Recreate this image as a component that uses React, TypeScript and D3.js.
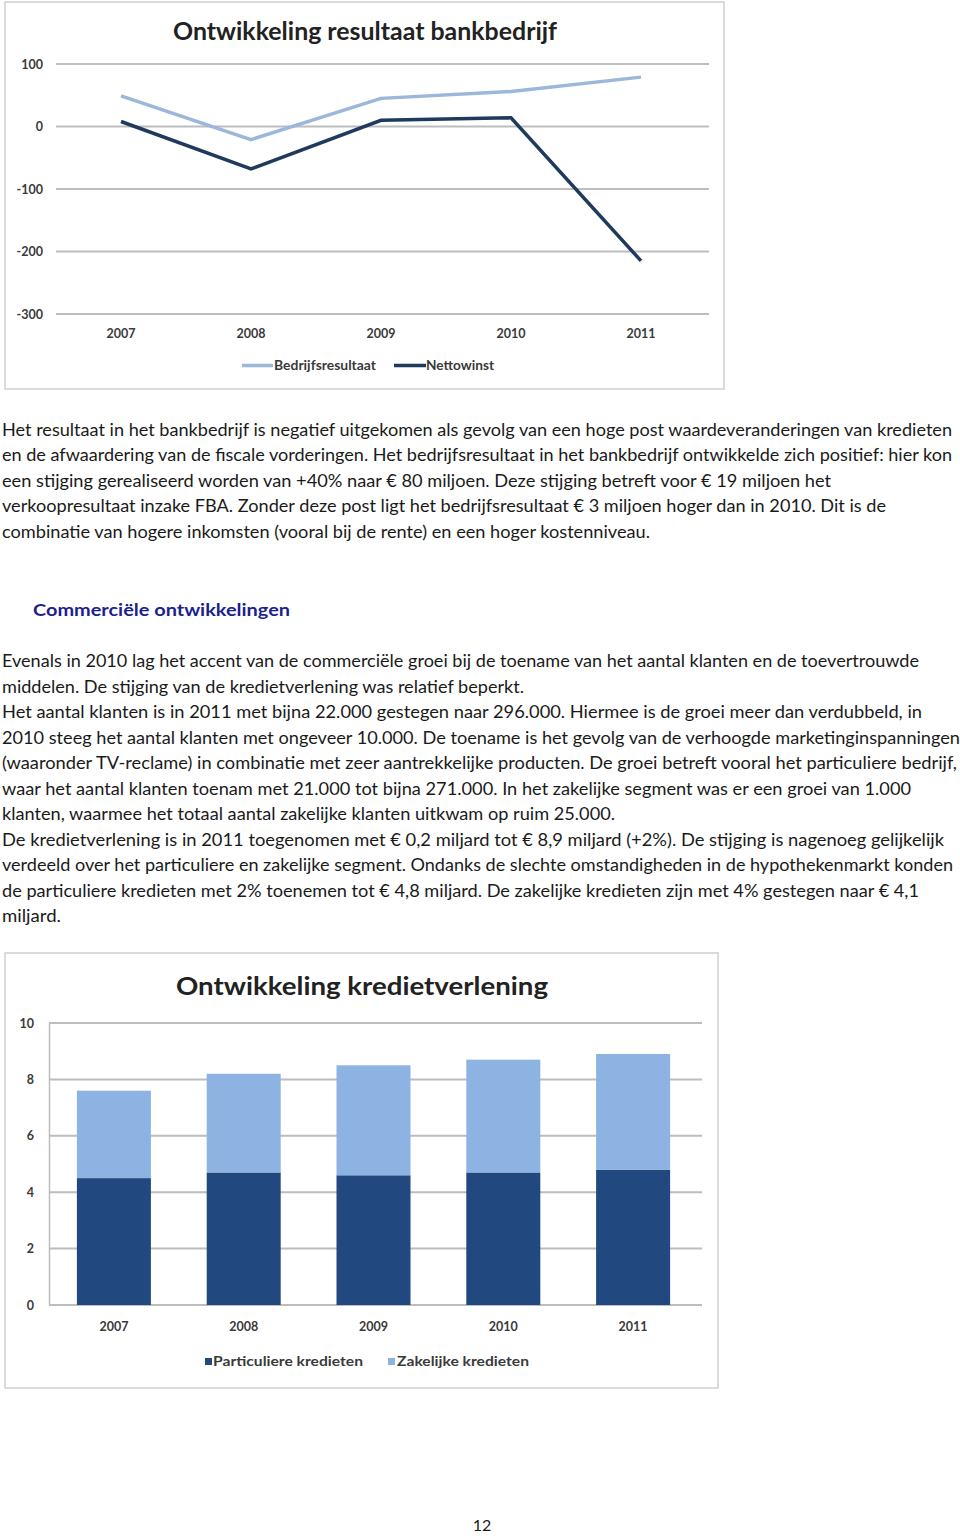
import React from 'react';
import * as d3 from 'd3';

const years = ['2007', '2008', '2009', '2010', '2011'];
const bedrijfsresultaat = [49, -21, 45, 56, 79];
const nettowinst = [8, -68, 10, 14, -215];
const resultTicks = [100, 0, -100, -200, -300];

const particuliere = [4.5, 4.7, 4.6, 4.7, 4.8];
const zakelijke = [3.1, 3.5, 3.9, 4.0, 4.1];
const kredietTicks = [0, 2, 4, 6, 8, 10];

const para1 = [
  'Het resultaat in het bankbedrijf is negatief uitgekomen als gevolg van een hoge post waardeveranderingen van kredieten',
  'en de afwaardering van de fiscale vorderingen. Het bedrijfsresultaat in het bankbedrijf ontwikkelde zich positief: hier kon',
  'een stijging gerealiseerd worden van +40% naar € 80 miljoen. Deze stijging betreft voor € 19 miljoen het',
  'verkoopresultaat inzake FBA. Zonder deze post ligt het bedrijfsresultaat € 3 miljoen hoger dan in 2010. Dit is de',
  'combinatie van hogere inkomsten (vooral bij de rente) en een hoger kostenniveau.',
];
const para1Ends = [952, 952, 831, 886, 650];

const heading = 'Commerciële ontwikkelingen';

const para2 = [
  'Evenals in 2010 lag het accent van de commerciële groei bij de toename van het aantal klanten en de toevertrouwde',
  'middelen. De stijging van de kredietverlening was relatief beperkt.',
  'Het aantal klanten is in 2011 met bijna 22.000 gestegen naar 296.000. Hiermee is de groei meer dan verdubbeld, in',
  '2010 steeg het aantal klanten met ongeveer 10.000. De toename is het gevolg van de verhoogde marketinginspanningen',
  '(waaronder TV-reclame) in combinatie met zeer aantrekkelijke producten. De groei betreft vooral het particuliere bedrijf,',
  'waar het aantal klanten toenam met 21.000 tot bijna 271.000. In het zakelijke segment was er een groei van 1.000',
  'klanten, waarmee het totaal aantal zakelijke klanten uitkwam op ruim 25.000.',
  'De kredietverlening is in 2011 toegenomen met € 0,2 miljard tot € 8,9 miljard (+2%). De stijging is nagenoeg gelijkelijk',
  'verdeeld over het particuliere en zakelijke segment. Ondanks de slechte omstandigheden in de hypothekenmarkt konden',
  'de particuliere kredieten met 2% toenemen tot € 4,8 miljard. De zakelijke kredieten zijn met 4% gestegen naar € 4,1',
  'miljard.',
];
const para2Ends = [919, 524, 922, 960, 957, 911, 615, 944, 953, 919, 61];

const FONT = 'Lato, "Open Sans", sans-serif';
const LIGHT_LINE = '#9bb7da';
const DARK_LINE = '#1f3a5c';
const DARK_BAR = '#21497f';
const LIGHT_BAR = '#8db3e2';
const GRID = '#bdbdbd';
const AXIS_TXT = '#3a3a3a';

function LineChart() {
  const x = d3.scaleBand<string>().domain(years).range([56, 706]);
  const cx = (d: string) => (x(d) as number) + x.bandwidth() / 2;
  const y = d3.scaleLinear().domain([-300, 100]).range([314, 64]);
  const line = d3
    .line<number>()
    .x((_, i) => cx(years[i]))
    .y((v) => y(v));
  return (
    <g>
      <rect x={5} y={2} width={719} height={387} fill="#fff" stroke="#cfcfcf" strokeWidth={1.5} />
      <text x={365} y={39.5} textAnchor="middle" fontFamily={FONT} fontWeight={700} fontSize={24}
        fill="#222" textLength={384} lengthAdjust="spacingAndGlyphs">Ontwikkeling resultaat bankbedrijf</text>
      {resultTicks.map((t) => (
        <g key={t}>
          <line x1={56} x2={709} y1={y(t)} y2={y(t)} stroke={GRID} strokeWidth={2} />
          <text x={43} y={y(t) + 4.5} textAnchor="end" fontFamily={FONT} fontWeight={700} fontSize={12.5}
            fill={AXIS_TXT}>{t}</text>
        </g>
      ))}
      {years.map((yr) => (
        <text key={yr} x={cx(yr)} y={338} textAnchor="middle" fontFamily={FONT} fontWeight={700}
          fontSize={12.5} fill={AXIS_TXT}>{yr}</text>
      ))}
      <path d={line(bedrijfsresultaat) || ''} fill="none" stroke={LIGHT_LINE} strokeWidth={3.5} />
      <path d={line(nettowinst) || ''} fill="none" stroke={DARK_LINE} strokeWidth={3.5} />
      <line x1={242} x2={273} y1={365.5} y2={365.5} stroke={LIGHT_LINE} strokeWidth={3.5} />
      <text x={274} y={370} fontFamily={FONT} fontWeight={700} fontSize={12.5} fill={AXIS_TXT}
        textLength={102} lengthAdjust="spacingAndGlyphs">Bedrijfsresultaat</text>
      <line x1={394} x2={426} y1={365.5} y2={365.5} stroke={DARK_LINE} strokeWidth={3.5} />
      <text x={426} y={370} fontFamily={FONT} fontWeight={700} fontSize={12.5} fill={AXIS_TXT}
        textLength={68} lengthAdjust="spacingAndGlyphs">Nettowinst</text>
    </g>
  );
}

function BarChart() {
  const x = d3.scaleBand<string>().domain(years).range([49, 698]);
  const barW = 74;
  const bx = (d: string) => (x(d) as number) + x.bandwidth() / 2 - barW / 2;
  const y = d3.scaleLinear().domain([0, 10]).range([1305, 1023]);
  return (
    <g>
      <rect x={5} y={953} width={713} height={435} fill="#fff" stroke="#cfcfcf" strokeWidth={1.5} />
      <text x={362} y={995} textAnchor="middle" fontFamily={FONT} fontWeight={700} fontSize={24}
        fill="#222" textLength={372} lengthAdjust="spacingAndGlyphs">Ontwikkeling kredietverlening</text>
      {kredietTicks.map((t) => (
        <g key={t}>
          <line x1={49} x2={702} y1={y(t)} y2={y(t)} stroke={GRID} strokeWidth={2} />
          <text x={34} y={y(t) + 4.5} textAnchor="end" fontFamily={FONT} fontWeight={700} fontSize={12.5}
            fill={AXIS_TXT}>{t}</text>
        </g>
      ))}
      <line x1={49.5} x2={49.5} y1={y(10)} y2={y(0)} stroke={GRID} strokeWidth={1.5} />
      {years.map((yr, i) => (
        <g key={yr}>
          <rect x={bx(yr)} y={y(particuliere[i])} width={barW} height={y(0) - y(particuliere[i])} fill={DARK_BAR} />
          <rect x={bx(yr)} y={y(particuliere[i] + zakelijke[i])} width={barW}
            height={y(particuliere[i]) - y(particuliere[i] + zakelijke[i])} fill={LIGHT_BAR} />
          <text x={bx(yr) + barW / 2} y={1331} textAnchor="middle" fontFamily={FONT} fontWeight={700}
            fontSize={12.5} fill={AXIS_TXT}>{yr}</text>
        </g>
      ))}
      <rect x={205} y={1358} width={7} height={7} fill={DARK_BAR} />
      <text x={213} y={1366} fontFamily={FONT} fontWeight={700} fontSize={12.5} fill={AXIS_TXT}
        textLength={150} lengthAdjust="spacingAndGlyphs">Particuliere kredieten</text>
      <rect x={388} y={1358} width={7} height={7} fill={LIGHT_BAR} />
      <text x={397} y={1366} fontFamily={FONT} fontWeight={700} fontSize={12.5} fill={AXIS_TXT}
        textLength={132} lengthAdjust="spacingAndGlyphs">Zakelijke kredieten</text>
    </g>
  );
}

export default function App() {
  return (
    <svg width={960} height={1536} style={{ position: 'absolute', left: 0, top: 0, background: '#fff' }}>
      <rect x={0} y={0} width={960} height={1536} fill="#fff" />
      <LineChart />
      {para1.map((t, i) => (
        <text key={'p1' + i} x={2} y={435.5 + i * 25.5} fontFamily={FONT} fontSize={17} fill="#1a1a1a"
          textLength={para1Ends[i] - 2} lengthAdjust="spacingAndGlyphs">{t}</text>
      ))}
      <text x={33} y={615.5} fontFamily={FONT} fontWeight={700} fontSize={17} fill="#1c1f8e"
        textLength={257} lengthAdjust="spacingAndGlyphs">{heading}</text>
      {para2.map((t, i) => (
        <text key={'p2' + i} x={2} y={667 + i * 25.5} fontFamily={FONT} fontSize={17} fill="#1a1a1a"
          textLength={para2Ends[i] - 2} lengthAdjust="spacingAndGlyphs">{t}</text>
      ))}
      <BarChart />
      <text x={482} y={1531} textAnchor="middle" fontFamily={FONT} fontSize={16} fill="#1a1a1a">12</text>
    </svg>
  );
}
